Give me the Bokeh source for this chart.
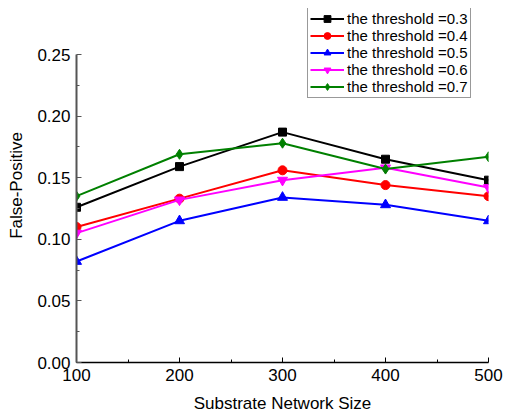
from bokeh.plotting import figure
from bokeh.models import Legend, LegendItem, FixedTicker, Range1d
from bokeh.embed import file_html
from bokeh.resources import INLINE

sizes = [100, 200, 300, 400, 500]
thr_03 = [0.126, 0.159, 0.187, 0.165, 0.148]
thr_04 = [0.110, 0.133, 0.156, 0.144, 0.135]
thr_05 = [0.082, 0.115, 0.134, 0.128, 0.115]
thr_06 = [0.105, 0.132, 0.148, 0.158, 0.142]
thr_07 = [0.135, 0.169, 0.178, 0.157, 0.167]
labels = ["the threshold =0.3", "the threshold =0.4", "the threshold =0.5",
          "the threshold =0.6", "the threshold =0.7"]
y_ticks = [0, 0.05, 0.10, 0.15, 0.20, 0.25]
series = [thr_03, thr_04, thr_05, thr_06, thr_07]
colors = ["black", "red", "blue", "magenta", "green"]
markers = ["square", "circle", "triangle", "inverted_triangle", "diamond"]
msize = [8, 9, 10, 10, 10]

FONT = "Liberation Sans"

# frame: 412 x 354 px; y axis drawn only over 0..0.25 (308 px)
p = figure(width=504, height=416, output_backend="svg", toolbar_location=None,
           x_range=Range1d(100, 500), y_range=Range1d(0, 0.25 * 354 / 308),
           min_border_left=76, min_border_right=16, min_border_top=8, min_border_bottom=54)
p.outline_line_color = None
p.grid.visible = False
p.background_fill_color = "white"

items = []
for ys, lab, c, m, ms in zip(series, labels, colors, markers, msize):
    r1 = p.line(sizes, ys, line_color=c, line_width=2)
    r2 = p.scatter(sizes, ys, marker=m, size=ms, fill_color=c, line_color=c)
    items.append(LegendItem(label=lab, renderers=[r1, r2]))

legend = Legend(items=items, location=(231, 264))
legend.label_text_font = FONT
legend.label_text_font_size = "15px"
legend.label_text_color = "black"
legend.label_standoff = 3
legend.glyph_width = 34
legend.glyph_height = 17
legend.label_height = 17
legend.spacing = 0
legend.padding = 2
legend.margin = 0
legend.border_line_color = "#333333"
legend.border_line_width = 1
legend.background_fill_alpha = 1
p.add_layout(legend, "center")

p.xaxis.ticker = FixedTicker(ticks=sizes, minor_ticks=[150, 250, 350, 450])
p.yaxis.ticker = FixedTicker(ticks=y_ticks,
                             minor_ticks=[0.025, 0.075, 0.125, 0.175, 0.225])
p.yaxis.major_label_overrides = {t: f"{t:.2f}" for t in y_ticks}
p.yaxis.bounds = (0, 0.25)

for ax in (p.xaxis, p.yaxis):
    ax.major_tick_in = 5
    ax.major_tick_out = 0
    ax.minor_tick_in = 3
    ax.minor_tick_out = 0
    ax.major_label_text_font = FONT
    ax.major_label_text_font_size = "17px"
    ax.major_label_text_color = "black"
    ax.axis_label_text_font = FONT
    ax.axis_label_text_font_size = "17px"
    ax.axis_label_text_font_style = "normal"
    ax.axis_label_text_color = "black"

p.xaxis.axis_label = "Substrate Network Size"
p.yaxis.axis_label = "False-Positive"
p.xaxis.axis_line_color = "black"
p.xaxis.axis_line_width = 1.5
p.xaxis.major_tick_line_color = "black"
p.xaxis.minor_tick_line_color = "black"
p.yaxis.axis_line_color = "#555555"
p.yaxis.axis_line_width = 2
p.yaxis.major_tick_line_color = "#555555"
p.yaxis.minor_tick_line_color = "#555555"
p.xaxis.major_label_standoff = 6
p.yaxis.major_label_standoff = 6
p.xaxis.axis_label_standoff = 10
p.yaxis.axis_label_standoff = 8

open("out.html", "w").write(file_html(p, INLINE))
